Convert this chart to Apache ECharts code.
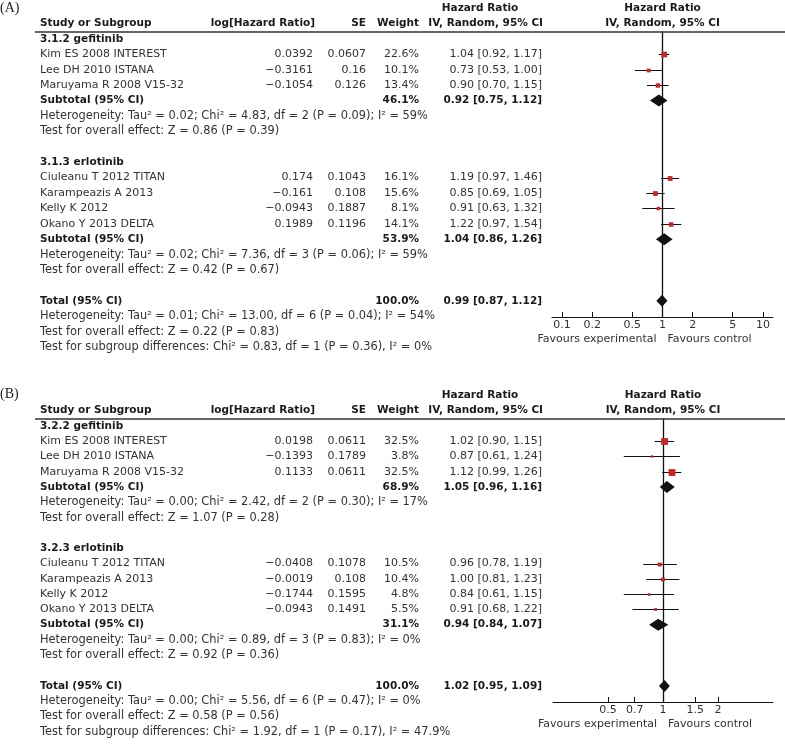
<!DOCTYPE html>
<html><head><meta charset="utf-8">
<script src="https://cdn.jsdelivr.net/npm/echarts@6/dist/echarts.min.js"></script>
<style>html,body{margin:0;padding:0;background:#fff}#c{width:785px;height:745px}</style>
</head><body><div id="c"></div>
<script>
// ---------- shared ----------
const studyNames = ['Kim ES 2008 INTEREST','Lee DH 2010 ISTANA','Maruyama R 2008 V15-32','Ciuleanu T 2012 TITAN','Karampeazis A 2013','Kelly K 2012','Okano Y 2013 DELTA'];
const studyGroup = [0,0,0,1,1,1,1];

// ---------- panel A ----------
const groupNamesA = ['3.1.2 gefitinib','3.1.3 erlotinib'];
const logHRA = [0.0392,-0.3161,-0.1054,0.174,-0.161,-0.0943,0.1989];
const seA = [0.0607,0.16,0.126,0.1043,0.108,0.1887,0.1196];
const weightA = [22.6,10.1,13.4,16.1,15.6,8.1,14.1];
const hrA = [1.04,0.73,0.90,1.19,0.85,0.91,1.22];
const loA = [0.92,0.53,0.70,0.97,0.69,0.63,0.97];
const hiA = [1.17,1.00,1.15,1.46,1.05,1.32,1.54];
const subWeightA = [46.1,53.9];
const subHRA = [0.92,1.04];
const subLoA = [0.75,0.86];
const subHiA = [1.12,1.26];
const hetA = ['Heterogeneity: Tau\u00b2 = 0.02; Chi\u00b2 = 4.83, df = 2 (P = 0.09); I\u00b2 = 59%','Heterogeneity: Tau\u00b2 = 0.02; Chi\u00b2 = 7.36, df = 3 (P = 0.06); I\u00b2 = 59%'];
const effectA = ['Test for overall effect: Z = 0.86 (P = 0.39)','Test for overall effect: Z = 0.42 (P = 0.67)'];
const totalA = [0.99,0.87,1.12];
const totalHetA = 'Heterogeneity: Tau\u00b2 = 0.01; Chi\u00b2 = 13.00, df = 6 (P = 0.04); I\u00b2 = 54%';
const totalEffectA = 'Test for overall effect: Z = 0.22 (P = 0.83)';
const subDiffA = 'Test for subgroup differences: Chi\u00b2 = 0.83, df = 1 (P = 0.36), I\u00b2 = 0%';
const ticksA = [0.1,0.2,0.5,1,2,5,10];

// ---------- panel B ----------
const groupNamesB = ['3.2.2 gefitinib','3.2.3 erlotinib'];
const logHRB = [0.0198,-0.1393,0.1133,-0.0408,-0.0019,-0.1744,-0.0943];
const seB = [0.0611,0.1789,0.0611,0.1078,0.108,0.1595,0.1491];
const weightB = [32.5,3.8,32.5,10.5,10.4,4.8,5.5];
const hrB = [1.02,0.87,1.12,0.96,1.00,0.84,0.91];
const loB = [0.90,0.61,0.99,0.78,0.81,0.61,0.68];
const hiB = [1.15,1.24,1.26,1.19,1.23,1.15,1.22];
const subWeightB = [68.9,31.1];
const subHRB = [1.05,0.94];
const subLoB = [0.96,0.84];
const subHiB = [1.16,1.07];
const hetB = ['Heterogeneity: Tau\u00b2 = 0.00; Chi\u00b2 = 2.42, df = 2 (P = 0.30); I\u00b2 = 17%','Heterogeneity: Tau\u00b2 = 0.00; Chi\u00b2 = 0.89, df = 3 (P = 0.83); I\u00b2 = 0%'];
const effectB = ['Test for overall effect: Z = 1.07 (P = 0.28)','Test for overall effect: Z = 0.92 (P = 0.36)'];
const totalB = [1.02,0.95,1.09];
const totalHetB = 'Heterogeneity: Tau\u00b2 = 0.00; Chi\u00b2 = 5.56, df = 6 (P = 0.47); I\u00b2 = 0%';
const totalEffectB = 'Test for overall effect: Z = 0.58 (P = 0.56)';
const subDiffB = 'Test for subgroup differences: Chi\u00b2 = 1.92, df = 1 (P = 0.17), I\u00b2 = 47.9%';
const ticksB = [0.5,0.7,1,1.5,2];

// ---------- rendering ----------
const FONT = '"DejaVu Sans", sans-serif';
const C_TXT = '#333';
const C_BOLD = '#1a1a1a';
const Y_MIN = -0.45, Y_MAX = 18.05;

const panels = [
  {label:'(A)', groups:groupNamesA, logHR:logHRA, se:seA, weight:weightA, hr:hrA, lo:loA, hi:hiA,
   subW:subWeightA, subHR:subHRA, subLo:subLoA, subHi:subHiA, het:hetA, effect:effectA,
   total:totalA, totalHet:totalHetA, totalEffect:totalEffectA, subDiff:subDiffA, ticks:ticksA,
   xMin:-1.1, xMax:1.1, grid:{left:552, top:32, width:221, height:285}},
  {label:'(B)', groups:groupNamesB, logHR:logHRB, se:seB, weight:weightB, hr:hrB, lo:loB, hi:hiB,
   subW:subWeightB, subHR:subHRB, subLo:subLoB, subHi:subHiB, het:hetB, effect:effectB,
   total:totalB, totalHet:totalHetB, totalEffect:totalEffectB, subDiff:subDiffB, ticks:ticksB,
   xMin:Math.log10(0.25), xMax:Math.log10(4), grid:{left:553, top:419, width:220, height:283}}
];

function fmtNum(v){ return String(v).replace('-', '\u2212'); }
function fmtCI(h,l,u){ return h.toFixed(2)+' ['+l.toFixed(2)+', '+u.toFixed(2)+']'; }
function T(x, y, text, align, bold, size){
  return {type:'text', x:x, y:y, style:{text:text, fill: bold?C_BOLD:C_TXT,
    fontSize: size || (bold ? 10.5 : 11), fontFamily:FONT,
    fontWeight: bold?'bold':'normal', align:align||'left', verticalAlign:'middle'}};
}

function buildRows(p){
  const rows = [{kind:'header', r:-2}];
  const forest = [];
  let r = 0;
  p.groups.forEach((gname, g) => {
    rows.push({kind:'group', r:r++, g});
    studyGroup.forEach((sg, i) => {
      if (sg === g) {
        forest.push([Math.log10(p.hr[i]), Math.log10(p.lo[i]), Math.log10(p.hi[i]), r, 0, p.weight[i]]);
        rows.push({kind:'study', r:r++, i});
      }
    });
    forest.push([Math.log10(p.subHR[g]), Math.log10(p.subLo[g]), Math.log10(p.subHi[g]), r, 1, 0]);
    rows.push({kind:'subtotal', r:r++, g});
    rows.push({kind:'line', r:r++, text:p.het[g]});
    rows.push({kind:'line', r:r++, text:p.effect[g]});
    r++;
  });
  forest.push([Math.log10(p.total[0]), Math.log10(p.total[1]), Math.log10(p.total[2]), r, 1, 0]);
  rows.push({kind:'total', r:r++});
  rows.push({kind:'line', r:r++, text:p.totalHet});
  rows.push({kind:'line', r:r++, text:p.totalEffect});
  rows.push({kind:'line', r:r++, text:p.subDiff});
  rows.push({kind:'favours', r:Y_MAX});
  return {rows, forest};
}

const option = {animation:false, backgroundColor:'#fff', grid:[], xAxis:[], yAxis:[], series:[], graphic:[]};

panels.forEach((p, pi) => {
  const {rows, forest} = buildRows(p);
  option.grid.push(Object.assign({}, p.grid));
  const tv = p.ticks.map(t => Math.log10(t));
  option.xAxis.push({gridIndex:pi, type:'value', min:p.xMin, max:p.xMax,
    axisLine:{onZero:false, lineStyle:{color:'#111', width:1}},
    axisTick:{show:true, inside:true, length:5, customValues:tv, lineStyle:{color:'#111'}},
    axisLabel:{customValues:tv, color:C_TXT, fontSize:11, fontFamily:FONT, margin:3,
      formatter: v => String(+Math.pow(10, v).toPrecision(2))},
    splitLine:{show:false}});
  option.yAxis.push({gridIndex:pi, type:'value', inverse:true, min:Y_MIN, max:Y_MAX,
    axisLine:{show:true, onZero:true, lineStyle:{color:'#111', width:1.3}},
    axisTick:{show:false}, axisLabel:{show:false}, splitLine:{show:false}});

  // table text
  option.series.push({type:'custom', xAxisIndex:pi, yAxisIndex:pi, clip:false, silent:true,
    data: rows.map(rw => [0, rw.r]),
    encode:{x:0, y:1},
    renderItem: (params, api) => {
      const rw = rows[params.dataIndex];
      const pt = api.coord([0, rw.r]);
      const y = pt[1], cx = pt[0];
      switch (rw.kind) {
        case 'header': {
          const y2 = api.coord([0, -1])[1];
          const yl = api.coord([0, Y_MIN])[1];
          return {type:'group', children:[
            T(480, y, 'Hazard Ratio', 'center', true),
            T(cx, y, 'Hazard Ratio', 'center', true),
            T(40, y2, 'Study or Subgroup', 'left', true),
            T(315, y2, 'log[Hazard Ratio]', 'right', true),
            T(366, y2, 'SE', 'right', true),
            T(419, y2, 'Weight', 'right', true),
            T(543, y2, 'IV, Random, 95% CI', 'right', true),
            T(cx, y2, 'IV, Random, 95% CI', 'center', true),
            {type:'line', shape:{x1:35, y1:yl, x2:785, y2:yl}, style:{stroke:'#333', lineWidth:1.5}}
          ]};
        }
        case 'group': return T(40, y, p.groups[rw.g], 'left', true);
        case 'study': {
          const i = rw.i;
          return {type:'group', children:[
            T(40, y, studyNames[i], 'left', false),
            T(313, y, fmtNum(p.logHR[i]), 'right', false),
            T(366, y, fmtNum(p.se[i]), 'right', false),
            T(419, y, p.weight[i].toFixed(1)+'%', 'right', false),
            T(542, y, fmtCI(p.hr[i], p.lo[i], p.hi[i]), 'right', false)
          ]};
        }
        case 'subtotal': {
          const g = rw.g;
          return {type:'group', children:[
            T(40, y, 'Subtotal (95% CI)', 'left', true),
            T(419, y, p.subW[g].toFixed(1)+'%', 'right', true),
            T(542, y, fmtCI(p.subHR[g], p.subLo[g], p.subHi[g]), 'right', true)
          ]};
        }
        case 'total':
          return {type:'group', children:[
            T(40, y, 'Total (95% CI)', 'left', true),
            T(419, y, '100.0%', 'right', true),
            T(542, y, fmtCI(p.total[0], p.total[1], p.total[2]), 'right', true)
          ]};
        case 'line': return T(40, y, rw.text, 'left', false, 11.4);
        case 'favours':
          return {type:'group', children:[
            T(cx-6, y+22, 'Favours experimental', 'right', false),
            T(cx+5, y+22, 'Favours control', 'left', false)
          ]};
      }
      return null;
    }
  });

  // forest marks
  option.series.push({type:'custom', xAxisIndex:pi, yAxisIndex:pi, clip:false, silent:true,
    data: forest, encode:{x:[0,1,2], y:3},
    renderItem: (params, api) => {
      const row = api.value(3);
      const c = api.coord([api.value(0), row]);
      const l = api.coord([api.value(1), row]);
      const h = api.coord([api.value(2), row]);
      if (api.value(4) === 0) {
        const s = 1.2 * Math.sqrt(api.value(5));
        const yy = Math.round(c[1]) + 0.5;
        return {type:'group', children:[
          {type:'line', shape:{x1:l[0], y1:yy, x2:h[0], y2:yy}, style:{stroke:'#111', lineWidth:1}},
          {type:'rect', shape:{x:c[0]-s/2, y:yy-s/2, width:s, height:s}, style:{fill:'#c0282a'}}
        ]};
      }
      return {type:'polygon', shape:{points:[[l[0],c[1]],[c[0],c[1]-6],[h[0],c[1]],[c[0],c[1]+6]]},
        style:{fill:'#111'}};
    }
  });

  option.graphic.push({type:'text', left:0, top: pi === 0 ? 1 : 387,
    style:{text:p.label, fill:'#222', fontSize:14, fontFamily:'"Liberation Serif", serif'}});
});

const chart = echarts.init(document.getElementById('c'), null, {renderer:'canvas'});
chart.setOption(option);
</script>
</body></html>
